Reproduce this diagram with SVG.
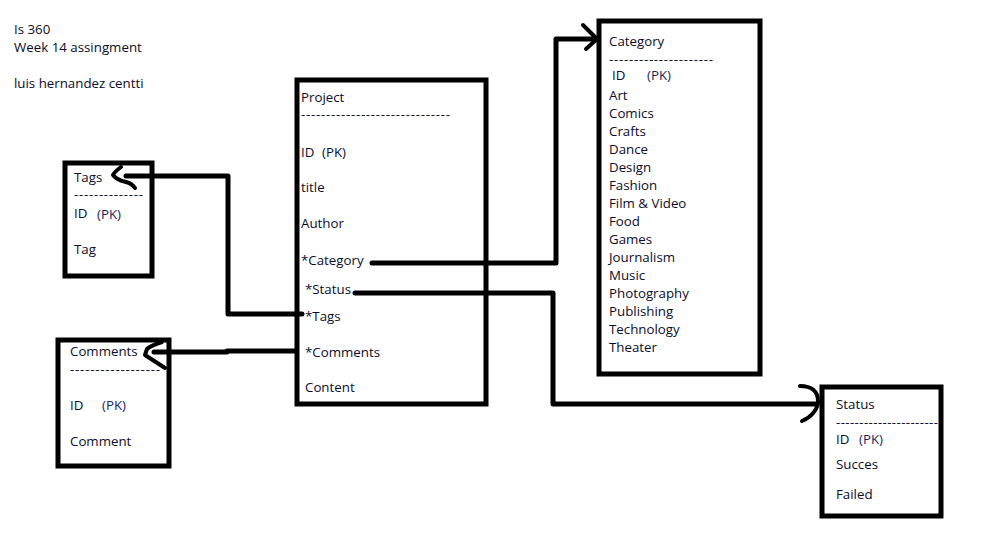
<svg xmlns="http://www.w3.org/2000/svg" width="1000" height="543" viewBox="0 0 1000 543">
<style>
  text { font-family: "Open Sans", "Noto Sans", "DejaVu Sans", sans-serif; font-size: 13.3px; fill: #0c0c2a; }
  .box { fill: #fff; stroke: #000; stroke-width: 5; }
  .conn { fill: none; stroke: #000; stroke-width: 5; stroke-linecap: round; stroke-linejoin: round; }
  .head { fill: none; stroke: #000; stroke-width: 4; stroke-linecap: round; stroke-linejoin: round; }
  .pk { fill: #18245e; }
</style>
<rect width="1000" height="543" fill="#fff"/>

<g id="title-notes">
  <text x="14" y="34">Is 360</text>
  <text x="14" y="52">Week 14 assingment</text>
  <text x="14" y="88">luis hernandez centti</text>
</g>

<g id="project">
  <rect class="box" x="297" y="80" width="189" height="324"/>
  <text x="301" y="102">Project</text>
  <text x="301" y="119" textLength="149" lengthAdjust="spacing">------------------------------</text>
  <text x="301" y="157">ID</text>
  <text x="322" y="157">(PK)</text>
  <text x="301" y="192">title</text>
  <text x="301" y="228">Author</text>
  <text x="301" y="265">*Category</text>
  <text x="305" y="294">*Status</text>
  <text x="305" y="321">*Tags</text>
  <text x="305" y="357">*Comments</text>
  <text x="305" y="392">Content</text>
</g>

<g id="tags">
  <rect class="box" x="65" y="163" width="87" height="113"/>
  <text x="74" y="182">Tags</text>
  <text x="74" y="199" textLength="69" lengthAdjust="spacing">--------------</text>
  <text x="74" y="218">ID</text>
  <text x="97" y="219" class="pk">(PK)</text>
  <text x="74" y="254">Tag</text>
</g>

<g id="comments">
  <rect class="box" x="58" y="340" width="111" height="126"/>
  <text x="70" y="356">Comments</text>
  <text x="70" y="374" textLength="90" lengthAdjust="spacing">------------------</text>
  <text x="70" y="410">ID</text>
  <text x="102" y="410" class="pk">(PK)</text>
  <text x="70" y="446">Comment</text>
</g>

<g id="category">
  <rect class="box" x="599" y="21" width="161" height="353"/>
  <text x="609" y="46">Category</text>
  <text x="609" y="64" textLength="104" lengthAdjust="spacing">---------------------</text>
  <text x="612" y="80">ID</text>
  <text x="647" y="80" class="pk">(PK)</text>
  <text x="609" y="100">Art</text>
  <text x="609" y="118">Comics</text>
  <text x="609" y="136">Crafts</text>
  <text x="609" y="154">Dance</text>
  <text x="609" y="172">Design</text>
  <text x="609" y="190">Fashion</text>
  <text x="609" y="208">Film &amp; Video</text>
  <text x="609" y="226">Food</text>
  <text x="609" y="244">Games</text>
  <text x="609" y="262">Journalism</text>
  <text x="609" y="280">Music</text>
  <text x="609" y="298">Photography</text>
  <text x="609" y="316">Publishing</text>
  <text x="609" y="334">Technology</text>
  <text x="609" y="352">Theater</text>
</g>

<g id="status">
  <rect class="box" x="822" y="387" width="119" height="129"/>
  <text x="836" y="409">Status</text>
  <text x="836" y="427" textLength="102" lengthAdjust="spacing">----------------------</text>
  <text x="836" y="444">ID</text>
  <text x="859" y="444" class="pk">(PK)</text>
  <text x="836" y="469">Succes</text>
  <text x="836" y="499">Failed</text>
</g>

<g id="connectors">
  <!-- Project.*Category -> Category -->
  <path class="conn" d="M372,263 H556 V39 H595"/>
  <path class="head" d="M583,25 L597,39 L586,49"/>
  <!-- Project.*Status -> Status -->
  <path class="conn" d="M355,293 H553 V404 H817"/>
  <path class="head" d="M800,386 C812,386 818,392 818,401 C818,410 810,418 802,421"/>
  <!-- Project.*Tags -> Tags -->
  <path class="conn" d="M302,314 H228 V176 H126"/>
  <path class="head" d="M121,167 C117,170 114,173 113,175 C116,179 121,181 126,182 C130,183 133,185 135,188"/>
  <!-- Project.*Comments -> Comments -->
  <path class="conn" d="M296,351 H227 V352 H154"/>
  <path class="head" d="M162,342 C156,344 150,346 147,349 L145,355 L165,368"/>
</g>
</svg>
